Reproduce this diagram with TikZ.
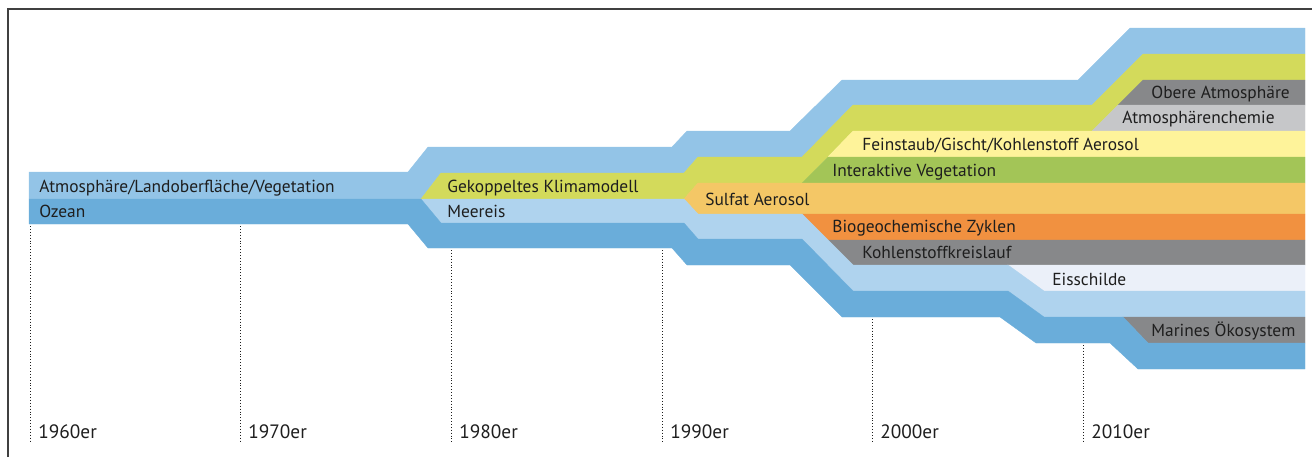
\documentclass[tikz,border=0pt]{standalone}
\usepackage{fontspec}
\setmainfont{PT Sans}
\usetikzlibrary{positioning}

\definecolor{atmo}{HTML}{93C4E7}
\definecolor{ozean}{HTML}{6AADDA}
\definecolor{klima}{HTML}{D3DA5B}
\definecolor{meereis}{HTML}{AFD3EE}
\definecolor{sulfat}{HTML}{F4C766}
\definecolor{staub}{HTML}{FEF39A}
\definecolor{veg}{HTML}{A3C557}
\definecolor{biogeo}{HTML}{F19140}
\definecolor{grau}{HTML}{87888A}
\definecolor{hellgrau}{HTML}{C6C7C9}
\definecolor{eis}{HTML}{EBF0F9}
\definecolor{ink}{HTML}{1E1E1E}

\begin{document}
\begin{tikzpicture}[
    x=0.02cm, y=-0.02cm,
    band/.style={fill=#1, draw=#1, line width=0.2pt},
    lbl/.style={anchor=base west, inner sep=0pt, text=ink, font=\fontsize{9.9}{12}\selectfont},
    dek/.style={lbl, font=\fontsize{11}{13}\selectfont},
    era/.style={draw=ink, line width=0.55pt, dash pattern=on 0.55pt off 1.1pt}
]
    \useasboundingbox (0,0) rectangle (1312,457);
    \draw[ink!85, line width=0.7pt] (8,457) -- (8,9) -- (1312,9);

    % upper bands
    \filldraw[band=atmo] (29,172) -- (408,172) -- (428,147) -- (672,147) -- (687,131) -- (790,131)
        -- (842,80) -- (1078,80) -- (1130,28) -- (1305,28) -- (1305,54) -- (1143,54) -- (1092,105)
        -- (853,105) -- (802,157) -- (698,157) -- (684,173) -- (441,173) -- (421,199) -- (29,199) -- cycle;
    \filldraw[band=klima] (421,199) -- (441,173) -- (684,173) -- (698,157) -- (802,157) -- (853,105)
        -- (1092,105) -- (1143,54) -- (1305,54) -- (1305,80) -- (1143,80) -- (1092,131) -- (853,131)
        -- (802,183) -- (698,183) -- (684,199) -- cycle;
    \filldraw[band=grau] (1118,105) -- (1143,80) -- (1305,80) -- (1305,105) -- cycle;
    \filldraw[band=hellgrau] (1092,131) -- (1118,105) -- (1305,105) -- (1305,131) -- cycle;
    \filldraw[band=staub] (828,157) -- (853,131) -- (1305,131) -- (1305,157) -- cycle;
    \filldraw[band=veg] (802,183) -- (828,157) -- (1305,157) -- (1305,183) -- cycle;
    \filldraw[band=sulfat] (684,199) -- (698,183) -- (1305,183) -- (1305,214) -- (698,214) -- cycle;

    % lower bands
    \filldraw[band=biogeo] (802,214) -- (1305,214) -- (1305,240) -- (828,240) -- cycle;
    \filldraw[band=grau] (828,240) -- (1305,240) -- (1305,265) -- (853,265) -- cycle;
    \filldraw[band=eis] (1008,265) -- (1305,265) -- (1305,291) -- (1044,291) -- cycle;
    \filldraw[band=meereis] (421,199) -- (684,199) -- (698,214) -- (802,214) -- (853,265) -- (1008,265)
        -- (1044,291) -- (1305,291) -- (1305,317) -- (1044,317) -- (1008,291) -- (853,291)
        -- (802,239) -- (698,239) -- (684,223) -- (441,223) -- cycle;
    \filldraw[band=grau] (1123,317) -- (1305,317) -- (1305,343) -- (1148,343) -- cycle;
    \filldraw[band=ozean] (29,199) -- (421,199) -- (441,223) -- (684,223) -- (698,239) -- (802,239)
        -- (853,291) -- (1008,291) -- (1044,317) -- (1123,317) -- (1148,343) -- (1305,343)
        -- (1305,369) -- (1138,369) -- (1110,343) -- (1036,343) -- (1000,317) -- (842,317)
        -- (790,265) -- (687,265) -- (672,248) -- (428,248) -- (408,224) -- (29,224) -- cycle;

    \node[lbl] (atmo) at (39,192.5) {Atmosphäre/Landoberfläche/Vegetation};
    \node[lbl] (ozean) at (39,217) {Ozean};
    \node[lbl] (klima) at (447,192) {Gekoppeltes Klimamodell};
    \node[lbl] (meereis) at (447,217) {Meereis};
    \node[lbl] (sulfat) at (705,205) {Sulfat Aerosol};
    \node[lbl] (staub) at (862,150) {Feinstaub/Gischt/Kohlenstoff Aerosol};
    \node[lbl] (veg) at (832,176) {Interaktive Vegetation};
    \node[lbl] (obere) at (1151,98) {Obere Atmosphäre};
    \node[lbl] (chemie) at (1122,123.5) {Atmosphärenchemie};
    \node[lbl] (biogeo) at (832,232.5) {Biogeochemische Zyklen};
    \node[lbl] (kohle) at (862,258) {Kohlenstoffkreislauf};
    \node[lbl] (eis) at (1052,285) {Eisschilde};
    \node[lbl] (marin) at (1151,336.5) {Marines Ökosystem};

    \foreach \x/\y/\t [count=\i] in {30/226/1960er, 240/226/1970er, 451/250/1980er,
                                     662/250/1990er, 872/319/2000er, 1083/345/2010er} {
        \coordinate (top\i) at (\x,\y);
        \coordinate (bot\i) at (\x,442);
        \draw[era] (top\i) -- (bot\i);
        \node[dek] (dek\i) at ({\x+8},438) {\t};
    }
\end{tikzpicture}
\end{document}
